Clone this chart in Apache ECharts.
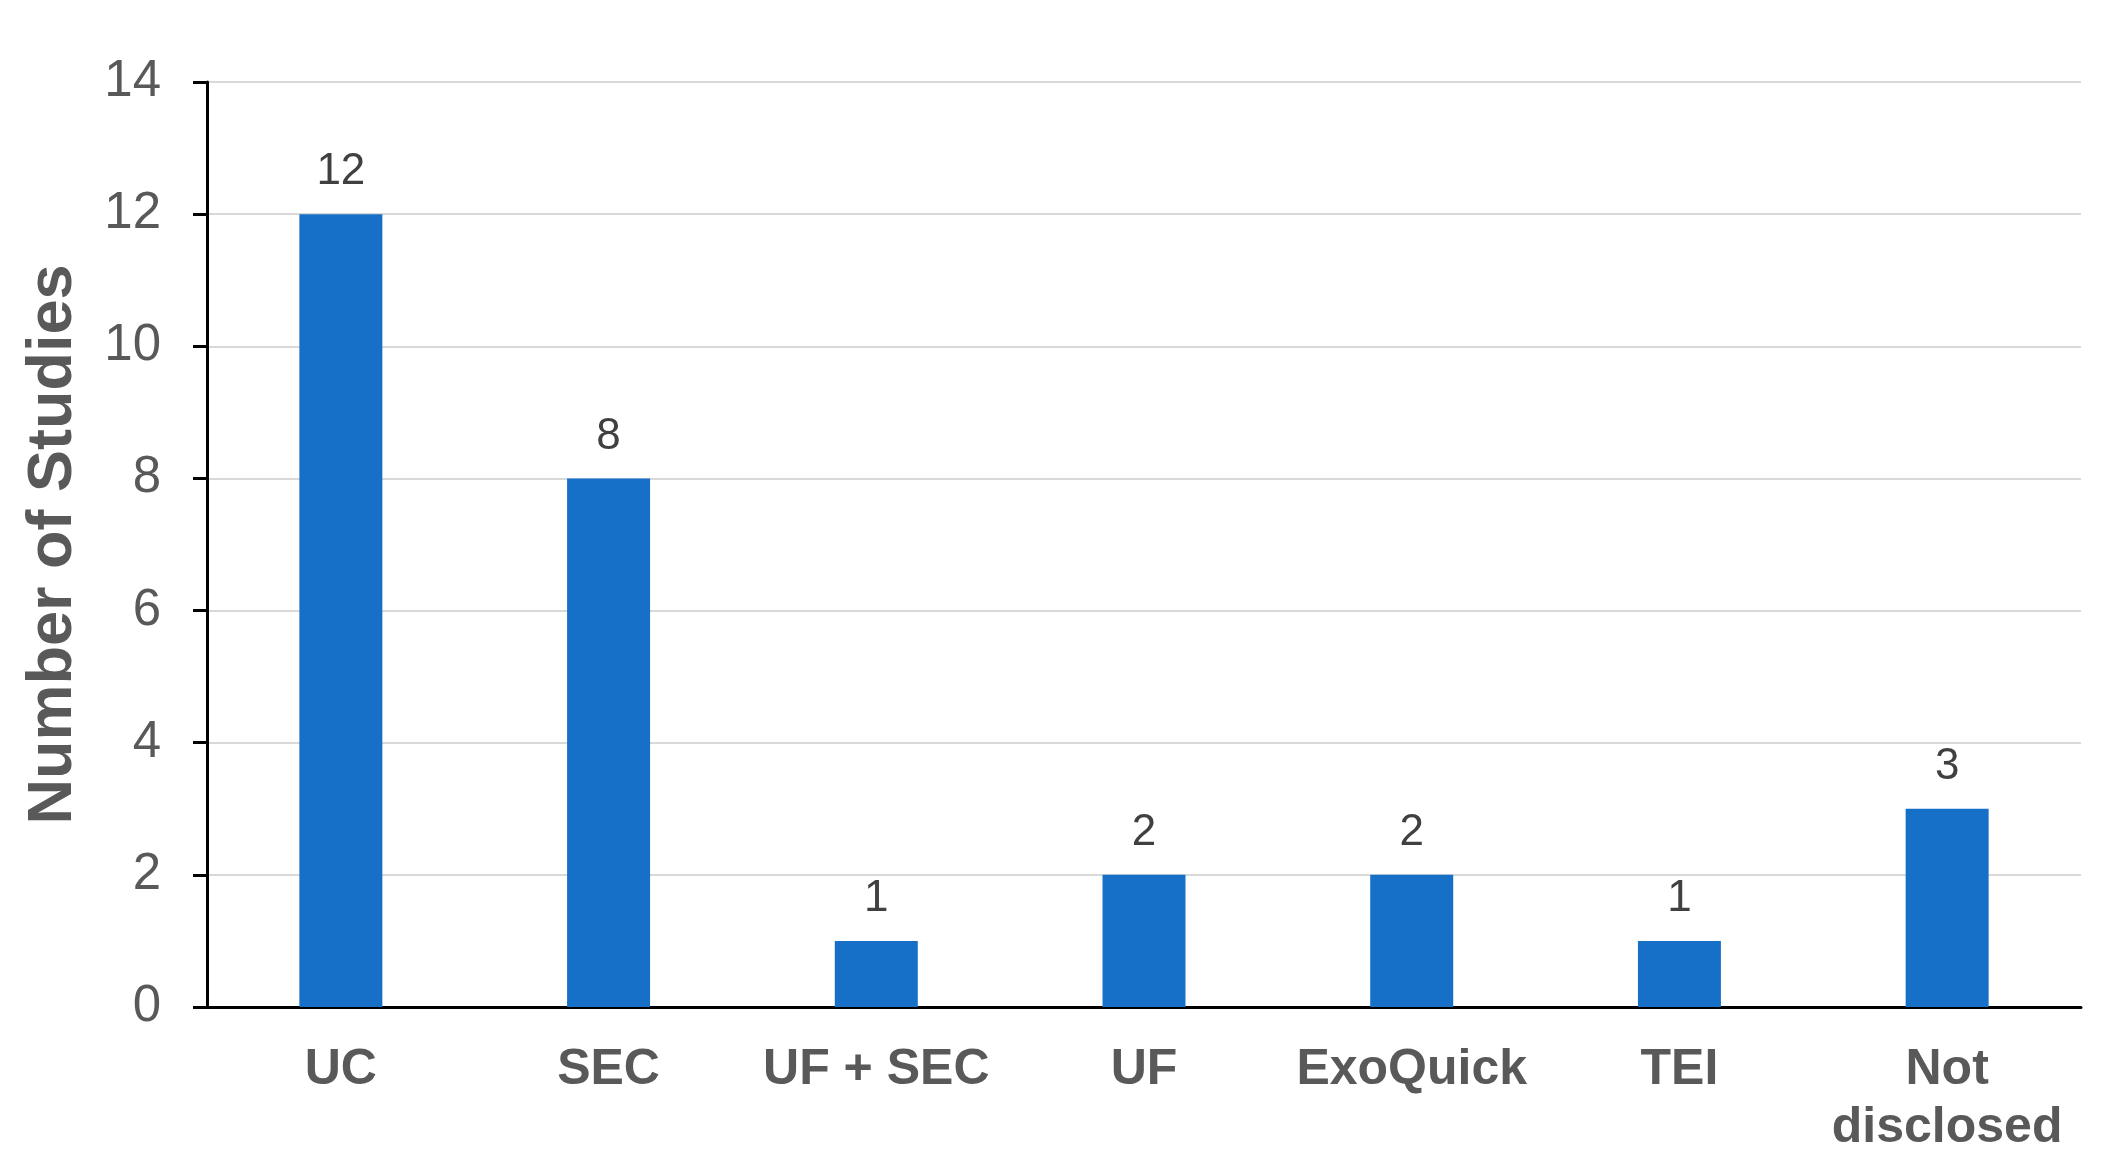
<!DOCTYPE html>
<html>
<head>
<meta charset="utf-8">
<script src="https://cdn.jsdelivr.net/npm/echarts@6/dist/echarts.min.js"></script>
<style>
  html, body { margin: 0; padding: 0; background: #fff; }
  #chart { width: 2111px; height: 1174px; }
</style>
</head>
<body>
<div id="chart"></div>
<script>
// categories and counts
var categories = ['UC', 'SEC', 'UF + SEC', 'UF', 'ExoQuick', 'TEI', 'Not\ndisclosed']
var counts = [12, 8, 1, 2, 2, 1, 3]
var yTicks = [0, 2, 4, 6, 8, 10, 12, 14]

var myChart = echarts.init(document.getElementById('chart'))
var option = {
  backgroundColor: '#ffffff',
  animation: false,
  grid: { left: 207, right: 30, top: 82, bottom: 167 },
  xAxis: {
    type: 'category',
    data: categories,
    axisLine: { lineStyle: { color: '#000', width: 3 } },
    axisTick: { show: false },
    axisLabel: {
      interval: 0,
      margin: 34,
      color: '#595959',
      fontFamily: 'Liberation Sans, Arial, sans-serif',
      fontWeight: 'bold',
      fontSize: 50,
      lineHeight: 58
    }
  },
  yAxis: {
    type: 'value',
    min: yTicks[0],
    max: yTicks[yTicks.length - 1],
    interval: 2,
    name: 'Number of Studies',
    nameLocation: 'middle',
    nameGap: 122,
    nameTextStyle: {
      color: '#595959',
      fontFamily: 'Liberation Sans, Arial, sans-serif',
      fontWeight: 'bold',
      fontSize: 63
    },
    axisLine: { show: true, lineStyle: { color: '#000', width: 3 } },
    axisTick: { show: true, length: 14, lineStyle: { color: '#000', width: 3 } },
    axisLabel: {
      margin: 46,
      color: '#595959',
      fontFamily: 'Liberation Sans, Arial, sans-serif',
      fontSize: 51
    },
    splitLine: { lineStyle: { color: '#d9d9d9', width: 2 } }
  },
  series: [{
    type: 'bar',
    data: counts,
    barWidth: '31%',
    itemStyle: { color: '#1770c8' },
    label: {
      show: true,
      position: 'top',
      distance: 20,
      color: '#404040',
      fontFamily: 'Liberation Sans, Arial, sans-serif',
      fontSize: 44
    }
  }]
}
myChart.setOption(option)
</script>
</body>
</html>
